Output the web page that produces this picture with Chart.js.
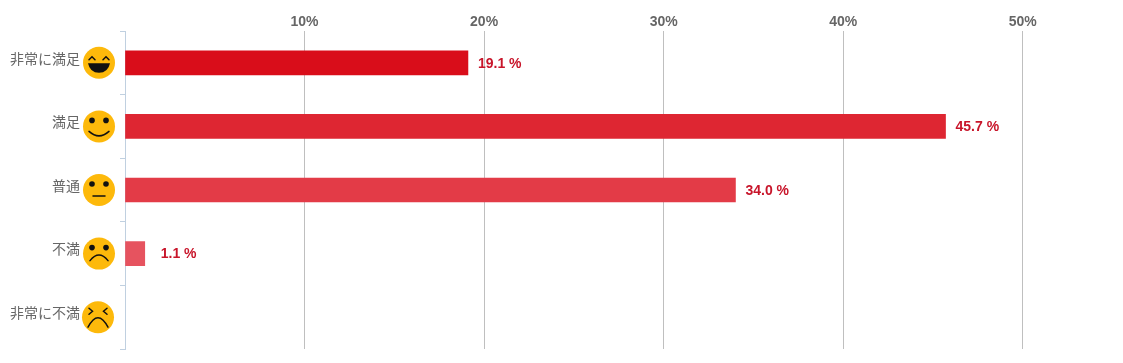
<!DOCTYPE html>
<html lang="ja">
<head>
<meta charset="utf-8">
<style>
  body { margin: 0; background: #fff; }
  canvas { display: block; }
</style>
<script src="https://cdn.jsdelivr.net/npm/chart.js@4"></script>
</head>
<body>
<canvas id="satisfactionChart" width="1123" height="363"></canvas>
<script>
const categories = ["非常に満足", "満足", "普通", "不満", "非常に不満"];
const percentValues = [19.1, 45.7, 34.0, 1.1, null];
const valueLabels = ["19.1 %", "45.7 %", "34.0 %", "1.1 %", ""];
const barColors = ["#d90d1a", "#de2632", "#e33b47", "#e6535f", "#e96c76"];
const faceTypes = ["laugh", "smile", "neutral", "sad", "angry"];
const xTickValues = [0, 10, 20, 30, 40, 50];

function drawEyes(ctx, x, y) {
  ctx.fillStyle = "#111";
  [-7, 7].forEach((dx) => {
    ctx.beginPath();
    ctx.arc(x + dx, y - 6, 2.8, 0, Math.PI * 2);
    ctx.fill();
  });
}

function drawFace(ctx, type, x, y) {
  ctx.save();
  ctx.fillStyle = "#fdb90b";
  ctx.beginPath();
  ctx.arc(x, y, 16, 0, Math.PI * 2);
  ctx.fill();
  ctx.strokeStyle = "#111";
  ctx.lineWidth = 1.5;
  ctx.lineCap = "round";
  if (type === "laugh") {
    [-7, 7].forEach((dx) => {
      ctx.beginPath();
      ctx.moveTo(x + dx - 3, y - 3);
      ctx.lineTo(x + dx, y - 6);
      ctx.lineTo(x + dx + 3, y - 3);
      ctx.stroke();
    });
    ctx.fillStyle = "#111";
    ctx.beginPath();
    ctx.moveTo(x - 11, y + 0.5);
    ctx.lineTo(x + 11, y + 0.5);
    ctx.quadraticCurveTo(x + 9, y + 10, x, y + 10);
    ctx.quadraticCurveTo(x - 9, y + 10, x - 11, y + 0.5);
    ctx.fill();
  } else if (type === "smile") {
    drawEyes(ctx, x, y);
    ctx.beginPath();
    ctx.moveTo(x - 10, y + 5);
    ctx.quadraticCurveTo(x, y + 14, x + 10, y + 5);
    ctx.stroke();
  } else if (type === "neutral") {
    drawEyes(ctx, x, y);
    ctx.beginPath();
    ctx.moveTo(x - 6, y + 6);
    ctx.lineTo(x + 6, y + 6);
    ctx.stroke();
  } else if (type === "sad") {
    drawEyes(ctx, x, y);
    ctx.beginPath();
    ctx.moveTo(x - 9, y + 7);
    ctx.quadraticCurveTo(x, y - 4, x + 9, y + 7);
    ctx.stroke();
  } else {
    [-1, 1].forEach((side) => {
      ctx.beginPath();
      ctx.moveTo(x + side * 9, y - 9);
      ctx.lineTo(x + side * 5.5, y - 6);
      ctx.lineTo(x + side * 9, y - 3);
      ctx.stroke();
    });
    ctx.beginPath();
    ctx.moveTo(x - 10, y + 10);
    ctx.quadraticCurveTo(x, y - 9, x + 10, y + 10);
    ctx.stroke();
  }
  ctx.restore();
}

// faces next to the category names and the percent text after each bar
const decorations = {
  id: "decorations",
  afterDatasetsDraw(chart) {
    const ctx = chart.ctx;
    const yScale = chart.scales.y;
    faceTypes.forEach((type, i) => {
      drawFace(ctx, type, i === 4 ? 98 : 99, yScale.getPixelForValue(i));
    });
    ctx.save();
    ctx.font = "bold 14px 'Liberation Sans', Arial, sans-serif";
    ctx.fillStyle = "#c8152a";
    ctx.textAlign = "left";
    ctx.textBaseline = "middle";
    chart.getDatasetMeta(0).data.forEach((bar, i) => {
      if (percentValues[i] === null) return;
      const gap = percentValues[i] < 5 ? 16 : 10;
      ctx.fillText(valueLabels[i], bar.x + gap, bar.y + 1);
    });
    ctx.restore();
  },
};

document.addEventListener("DOMContentLoaded", () => {
  const ctx = document.getElementById("satisfactionChart").getContext("2d");
  new Chart(ctx, {
    type: "bar",
    data: {
      labels: categories,
      datasets: [
        {
          data: percentValues,
          backgroundColor: barColors,
          barThickness: 24,
          borderWidth: 0,
        },
      ],
    },
    options: {
      indexAxis: "y",
      responsive: false,
      animation: false,
      layout: { padding: { right: 10.5, bottom: 14 } },
      plugins: { legend: { display: false }, tooltip: { enabled: false } },
      scales: {
        x: {
          position: "top",
          min: 0,
          max: 55,
          afterBuildTicks(scale) {
            scale.ticks = xTickValues.map((value) => ({ value: value }));
          },
          afterFit(scale) {
            scale.height = 31;
            scale.paddingLeft = 0;
            scale.paddingRight = 0;
          },
          border: { display: false },
          grid: {
            color: (c) => (c.tick && c.tick.value === 0 ? "rgba(0,0,0,0)" : "#bfbfbf"),
            drawTicks: false,
          },
          ticks: {
            padding: 0,
            maxRotation: 0,
            color: "#666666",
            font: { family: "'Liberation Sans', Arial, sans-serif", size: 14, weight: "bold" },
            callback: (value) => (value === 0 ? "" : value + "%"),
          },
        },
        y: {
          afterFit(scale) {
            // tick padding also counts as top/bottom padding, which would shrink the plot
            scale.width = 125;
            scale.paddingTop = 0;
            scale.paddingBottom = 0;
          },
          border: { display: true, color: "#c0d0e0", width: 1 },
          grid: {
            offset: true,
            drawOnChartArea: false,
            drawTicks: true,
            tickLength: 5,
            tickColor: "#c0d0e0",
          },
          ticks: {
            padding: 40,
            labelOffset: -4.5,
            color: "#666666",
            font: { family: "'Noto Sans CJK JP', sans-serif", size: 14 },
          },
        },
      },
    },
    plugins: [decorations],
  });
});
</script>
</body>
</html>
